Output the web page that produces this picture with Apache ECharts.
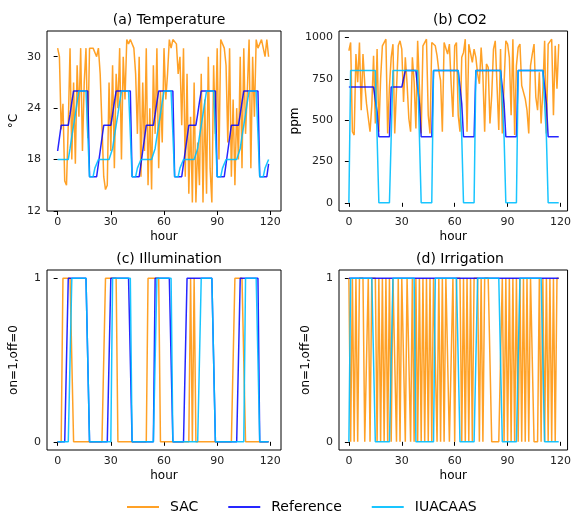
<!DOCTYPE html>
<html>
<head>
<meta charset="utf-8">
<script src="https://cdn.jsdelivr.net/npm/echarts@6/dist/echarts.min.js"></script>
<style>
  html, body { margin: 0; padding: 0; background: #fff; }
  #chart { width: 574px; height: 514px; }
</style>
</head>
<body>
<div id="chart"></div>
<script>
// hourly samples, 0..119
const hours = Array.from({ length: 120 }, (_, i) => i)

// (a) temperature, degC
const tempSAC = [
  31, 30, 21.5, 24.5, 15.5, 15, 22, 31, 18, 27, 17.5, 29, 23, 31, 19, 27, 31, 20.5, 31, 31, 31, 31, 30, 31,
  28, 22, 16, 14.5, 15, 27, 19, 29, 17, 28, 24, 31, 18, 30, 25, 32, 31.5, 32, 32, 31, 28, 21, 30, 16,
  27, 19, 31, 15, 24, 14.5, 29, 21, 31, 17, 26, 20, 31, 25, 28, 32, 31, 32, 32, 31.5, 28, 30, 22, 31,
  16, 28, 14, 23, 13, 27, 13, 20, 15, 28, 13, 25, 14, 30, 17, 13, 29, 21, 31, 18, 32, 32, 31, 29,
  20, 31, 16, 25, 15, 24, 18, 30, 17, 31, 21, 26, 32, 17, 30, 23, 32, 31, 31.5, 32, 31, 30, 32, 30
]
const tempRef = [
  19, 20.5, 22, 22, 22, 22, 22, 23.3, 24.7, 26, 26, 26, 26, 26, 26, 26, 26, 26, 16, 16, 16, 16, 16, 17.5,
  19, 20.5, 22, 22, 22, 22, 22, 23.3, 24.7, 26, 26, 26, 26, 26, 26, 26, 26, 26, 16, 16, 16, 16, 16, 17.5,
  19, 20.5, 22, 22, 22, 22, 22, 23.3, 24.7, 26, 26, 26, 26, 26, 26, 26, 26, 26, 16, 16, 16, 16, 16, 17.5,
  19, 20.5, 22, 22, 22, 22, 22, 23.3, 24.7, 26, 26, 26, 26, 26, 26, 26, 26, 26, 16, 16, 16, 16, 16, 17.5,
  19, 20.5, 22, 22, 22, 22, 22, 23.3, 24.7, 26, 26, 26, 26, 26, 26, 26, 26, 26, 16, 16, 16, 16, 16, 17.5
]
const tempIUA = [
  18, 18, 18, 18, 18, 18, 18, 19.3, 20.7, 22, 23.3, 24.7, 26, 26, 26, 26, 26, 26, 16, 16, 16, 17, 17, 18,
  18, 18, 18, 18, 18, 18, 18, 19.3, 20.7, 22, 23.3, 24.7, 26, 26, 26, 26, 26, 26, 16, 16, 16, 17, 17, 18,
  18, 18, 18, 18, 18, 18, 18, 19.3, 20.7, 22, 23.3, 24.7, 26, 26, 26, 26, 26, 26, 16, 16, 16, 17, 17, 18,
  18, 18, 18, 18, 18, 18, 18, 19.3, 20.7, 22, 23.3, 24.7, 26, 26, 26, 26, 26, 26, 16, 16, 16, 17, 17, 18,
  18, 18, 18, 18, 18, 18, 18, 19.3, 20.7, 22, 23.3, 24.7, 26, 26, 26, 26, 26, 26, 16, 16, 16, 17, 17, 18
]

// (b) CO2, ppm
const co2SAC = [
  920, 970, 430, 410, 900, 730, 970, 560, 900, 720, 600, 610, 430, 590, 890, 480, 930, 430, 750, 950, 960, 990, 420, 700,
  880, 960, 420, 430, 950, 980, 930, 610, 880, 720, 510, 430, 880, 730, 450, 980, 970, 420, 950, 960, 990, 530, 420, 970,
  960, 950, 890, 800, 740, 430, 970, 980, 900, 960, 720, 520, 950, 970, 530, 430, 880, 910, 990, 430, 960, 950, 850, 930,
  880, 780, 720, 940, 770, 430, 840, 820, 480, 650, 930, 980, 990, 440, 930, 420, 720, 980, 960, 880, 530, 990, 410, 830,
  940, 960, 710, 670, 630, 560, 420, 830, 900, 960, 640, 560, 790, 480, 680, 980, 420, 960, 970, 990, 530, 950, 690, 960
]
const co2Ref = [
  700, 700, 700, 700, 700, 700, 700, 700, 700, 700, 700, 700, 700, 700, 700, 700, 550, 400, 400, 400, 400, 400, 400, 400,
  700, 700, 700, 700, 700, 700, 700, 750, 800, 800, 800, 800, 800, 800, 800, 800, 600, 400, 400, 400, 400, 400, 400, 400,
  800, 800, 800, 800, 800, 800, 800, 800, 800, 800, 800, 800, 800, 800, 800, 800, 600, 400, 400, 400, 400, 400, 400, 400,
  800, 800, 800, 800, 800, 800, 800, 800, 800, 800, 800, 800, 800, 800, 800, 800, 600, 400, 400, 400, 400, 400, 400, 400,
  800, 800, 800, 800, 800, 800, 800, 800, 800, 800, 800, 800, 800, 800, 800, 800, 600, 400, 400, 400, 400, 400, 400, 400
]
const co2IUA = [
  0, 800, 800, 800, 800, 800, 800, 800, 800, 800, 800, 800, 800, 800, 800, 800, 400, 0, 0, 0, 0, 0, 0, 0,
  400, 800, 800, 800, 800, 800, 800, 800, 800, 800, 800, 800, 800, 800, 800, 800, 400, 0, 0, 0, 0, 0, 0, 0,
  800, 800, 800, 800, 800, 800, 800, 800, 800, 800, 800, 800, 800, 800, 800, 800, 400, 0, 0, 0, 0, 0, 0, 0,
  800, 800, 800, 800, 800, 800, 800, 800, 800, 800, 800, 800, 800, 800, 800, 800, 400, 0, 0, 0, 0, 0, 0, 0,
  800, 800, 800, 800, 800, 800, 800, 800, 800, 800, 800, 800, 800, 800, 800, 800, 400, 0, 0, 0, 0, 0, 0, 0
]

// (c) illumination, on=1 off=0
const illumSAC = [
  0, 0, 0, 1, 1, 1, 1, 1, 1, 0, 0, 0, 0, 0, 0, 0, 0, 0, 0, 0, 0, 0, 0, 0,
  0, 0, 0, 1, 1, 1, 1, 1, 1, 1, 0, 0, 0, 0, 0, 0, 0, 0, 0, 0, 0, 0, 0, 0,
  0, 0, 0, 1, 1, 1, 1, 1, 1, 1, 0, 0, 0, 0, 0, 0, 0, 0, 0, 0, 0, 0, 0, 0,
  0, 0, 0, 1, 0, 1, 0, 0, 0, 0, 0, 0, 0, 0, 0, 0, 0, 0, 0, 0, 0, 0, 0, 0,
  0, 0, 0, 0, 1, 1, 1, 1, 1, 1, 0, 0, 0, 0, 0, 0, 0, 0, 0, 0, 0, 0, 0, 0
]
const illumRef = [
  0, 0, 0, 0, 0, 0, 1, 1, 1, 1, 1, 1, 1, 1, 1, 1, 1, 1, 0, 0, 0, 0, 0, 0,
  0, 0, 0, 0, 0, 0, 1, 1, 1, 1, 1, 1, 1, 1, 1, 1, 1, 1, 0, 0, 0, 0, 0, 0,
  0, 0, 0, 0, 0, 0, 0, 1, 1, 1, 1, 1, 1, 1, 1, 1, 1, 0, 0, 0, 0, 0, 0, 0,
  0, 1, 1, 1, 1, 1, 1, 1, 1, 1, 1, 1, 1, 1, 1, 1, 1, 0, 0, 0, 0, 0, 0, 0,
  0, 0, 0, 0, 0, 0, 0, 1, 1, 1, 1, 1, 1, 1, 1, 1, 1, 1, 0, 0, 0, 0, 0, 0
]
const illumIUA = [
  0, 0, 0, 0, 0, 0, 0, 0, 1, 1, 1, 1, 1, 1, 1, 1, 1, 1, 0, 0, 0, 0, 0, 0,
  0, 0, 0, 0, 0, 0, 0, 1, 1, 1, 1, 1, 1, 1, 1, 1, 1, 1, 0, 0, 0, 0, 0, 0,
  0, 0, 0, 0, 0, 0, 0, 0, 1, 1, 1, 1, 1, 1, 1, 1, 1, 0, 0, 0, 0, 0, 0, 0,
  0, 0, 0, 0, 0, 0, 0, 0, 0, 1, 1, 1, 1, 1, 1, 1, 1, 0, 0, 0, 0, 0, 0, 0,
  0, 0, 0, 0, 0, 0, 0, 0, 0, 0, 1, 1, 1, 1, 1, 1, 1, 1, 0, 0, 0, 0, 0, 0
]

// (d) irrigation, on=1 off=0
const irrSAC = [
  1, 0, 1, 0, 1, 0, 1, 1, 1, 0, 0, 1, 0, 1, 1, 1, 0, 1, 0, 1, 0, 1, 0, 1,
  0, 1, 1, 0, 1, 0, 1, 1, 0, 1, 1, 0, 1, 0, 1, 0, 1, 0, 1, 0, 1, 0, 1, 0,
  1, 1, 0, 1, 0, 1, 0, 1, 1, 0, 0, 1, 0, 1, 1, 1, 0, 1, 0, 1, 0, 1, 0, 1,
  1, 1, 0, 1, 0, 1, 1, 1, 1, 0, 0, 0, 0, 0, 0, 1, 0, 1, 0, 1, 0, 1, 0, 1,
  0, 1, 0, 1, 0, 1, 0, 1, 1, 0, 0, 0, 1, 0, 1, 0, 1, 0, 1, 0, 1, 0, 1, 1
]
const irrRef = [
  1, 1, 1, 1, 1, 1, 1, 1, 1, 1, 1, 1, 1, 1, 1, 1, 1, 1, 1, 1, 1, 1, 1, 1,
  1, 1, 1, 1, 1, 1, 1, 1, 1, 1, 1, 1, 1, 1, 1, 1, 1, 1, 1, 1, 1, 1, 1, 1,
  1, 1, 1, 1, 1, 1, 1, 1, 1, 1, 1, 1, 1, 1, 1, 1, 1, 1, 1, 1, 1, 1, 1, 1,
  1, 1, 1, 1, 1, 1, 1, 1, 1, 1, 1, 1, 1, 1, 1, 1, 1, 1, 1, 1, 1, 1, 1, 1,
  1, 1, 1, 1, 1, 1, 1, 1, 1, 1, 1, 1, 1, 1, 1, 1, 1, 1, 1, 1, 1, 1, 1, 1
]
const irrIUA = [
  0, 1, 1, 1, 1, 1, 1, 1, 1, 1, 1, 1, 1, 1, 1, 0, 0, 0, 0, 0, 0, 0, 0, 0,
  0, 1, 1, 1, 1, 1, 1, 1, 1, 1, 1, 1, 1, 1, 0, 0, 0, 0, 0, 0, 0, 0, 0, 0,
  0, 1, 1, 1, 1, 1, 1, 1, 1, 1, 1, 1, 1, 1, 1, 0, 0, 0, 0, 0, 0, 0, 0, 0,
  0, 1, 1, 1, 1, 1, 1, 1, 1, 1, 1, 1, 1, 1, 1, 0, 0, 0, 0, 0, 0, 0, 0, 0,
  0, 1, 1, 1, 1, 1, 1, 1, 1, 1, 1, 1, 1, 1, 1, 0, 0, 0, 0, 0, 0, 0, 0, 0
]

const xTicks = [0, 30, 60, 90, 120]
const tempTicks = [12, 18, 24, 30]
const co2Ticks = [0, 250, 500, 750, 1000]
const onoffTicks = [0, 1]

const FONT = 'DejaVu Sans'
const colors = {
  SAC: 'rgba(255,145,0,0.85)',
  Reference: 'rgba(0,0,255,0.85)',
  IUACAAS: 'rgba(0,191,255,0.9)'
}

const grids = [
  { left: 47, top: 31, width: 234, height: 180 },
  { left: 339, top: 31, width: 231, height: 180 },
  { left: 47, top: 270, width: 234, height: 180 },
  { left: 339, top: 270, width: 231, height: 180 }
].map(g => Object.assign(g, { show: true, borderColor: '#000', borderWidth: 1, containLabel: false }))

function plain(v) { return String(v) }

function xAxis(idx, min, max) {
  return {
    type: 'value', gridIndex: idx, min: min, max: max,
    name: 'hour', nameLocation: 'middle', nameGap: 20,
    nameTextStyle: { fontFamily: FONT, fontSize: 12, color: '#000' },
    axisLine: { show: false },
    axisTick: { show: true, length: 4, customValues: xTicks, lineStyle: { color: '#000' } },
    axisLabel: { customValues: xTicks, formatter: plain, fontFamily: FONT, fontSize: 11, color: '#222', margin: 6 },
    splitLine: { show: false }
  }
}

function yAxis(idx, min, max, ticks, name, gap) {
  return {
    type: 'value', gridIndex: idx, min: min, max: max,
    name: name, nameLocation: 'middle', nameGap: gap,
    nameTextStyle: { fontFamily: FONT, fontSize: 12, color: '#000' },
    axisLine: { show: false },
    axisTick: { show: true, length: 4, customValues: ticks, lineStyle: { color: '#000' } },
    axisLabel: { customValues: ticks, formatter: plain, fontFamily: FONT, fontSize: 11, color: '#222', margin: 6 },
    splitLine: { show: false }
  }
}

function line(name, idx, values) {
  return {
    name: name, type: 'line', xAxisIndex: idx, yAxisIndex: idx,
    data: hours.map((h, i) => [h, values[i]]),
    showSymbol: false, symbol: 'none',
    color: colors[name],
    lineStyle: { width: 1.5, color: colors[name] },
    animation: false
  }
}

function title(text, x, y) {
  return {
    text: text, left: x, top: y, textAlign: 'center',
    textStyle: { fontFamily: FONT, fontSize: 14, fontWeight: 'normal', color: '#000' }
  }
}

const option = {
  backgroundColor: '#fff',
  animation: false,
  title: [
    title('(a) Temperature', 164, 8),
    title('(b) CO2', 455, 8),
    title('(c) Illumination', 164, 247),
    title('(d) Irrigation', 455, 247)
  ],
  legend: {
    data: ['SAC', 'Reference', 'IUACAAS'],
    left: 122, top: 495,
    icon: 'rect', itemWidth: 32, itemHeight: 2, itemGap: 30,
    textStyle: { fontFamily: FONT, fontSize: 14, color: '#000', padding: [0, 0, 0, 6] }
  },
  grid: grids,
  xAxis: [xAxis(0, -6, 126), xAxis(1, -5.6, 124), xAxis(2, -6, 126), xAxis(3, -5.6, 124)],
  yAxis: [
    yAxis(0, 12, 33, tempTicks, '°C', 27),
    yAxis(1, -49.5, 1039.5, co2Ticks, 'ppm', 37),
    yAxis(2, -0.05, 1.05, onoffTicks, 'on=1,off=0', 27),
    yAxis(3, -0.05, 1.05, onoffTicks, 'on=1,off=0', 27)
  ],
  series: [
    line('SAC', 0, tempSAC), line('Reference', 0, tempRef), line('IUACAAS', 0, tempIUA),
    line('SAC', 1, co2SAC), line('Reference', 1, co2Ref), line('IUACAAS', 1, co2IUA),
    line('SAC', 2, illumSAC), line('Reference', 2, illumRef), line('IUACAAS', 2, illumIUA),
    line('SAC', 3, irrSAC), line('Reference', 3, irrRef), line('IUACAAS', 3, irrIUA)
  ]
}

const chart = echarts.init(document.getElementById('chart'), null, { renderer: 'canvas' })
chart.setOption(option)
</script>
</body>
</html>
